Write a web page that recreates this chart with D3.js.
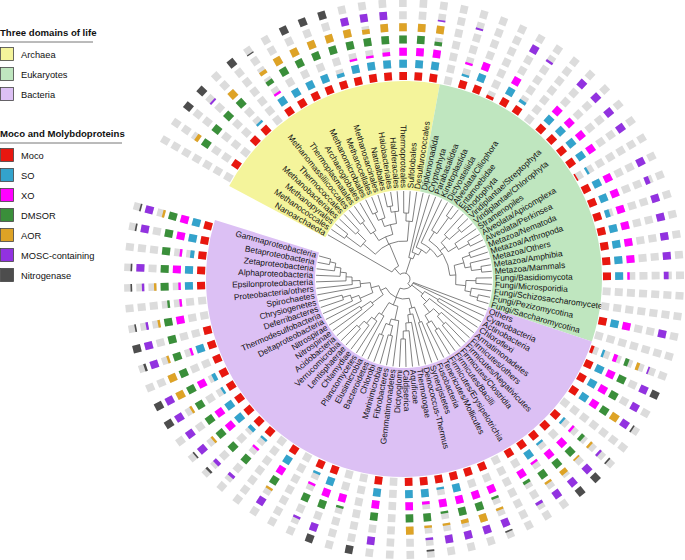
<!DOCTYPE html>
<html><head><meta charset="utf-8">
<script src="https://cdn.jsdelivr.net/npm/d3@7"></script>
<style>
body{margin:0;background:#fff}
svg{display:block}
text{font-family:"Liberation Sans",Arial,Helvetica,sans-serif;fill:#111}
</style>
</head><body>
<svg id="chart" width="685" height="560"></svg>
<script>
// ---------------- data ----------------
const archaea = ["Nanoarchaeota","Methanococcales","Methanopyrales","Methanobacteriales","Thermococcales",
 "Methanomassiliicoccales","Thermoplasmatales","Archaeoglobales","Methanomicrobiales","Methanocellales",
 "Methanosarcinales","Natrialbales","Halobacteriales","Haloferacales","Thermoproteales","Sulfolobales","Desulfurococcales"];
const eukaryotes = ["Diplomonadida","Cryptophyta","Parabasalidea","Kinetoplastida","Dictyosteliida","Alveolata/Ciliophora",
 "Entamoebidae","Rhodophyta","Viridiplantae/Streptophyta","Viridiplantae/Chlorophyta","Stramenopiles","Alveolata/Apicomplexa",
 "Alveolata/Perkinsea","Metazoa/Nematoda","Metazoa/Arthropoda","Metazoa/Others","Metazoa/Amphibia","Metazoa/Mammals",
 "Fungi/Basidiomycota","Fungi/Microsporidia","Fungi/Schizosaccharomycetes","Fungi/Pezizomycotina","Fungi/Saccharomycotina"];
const bacteria = ["Others","Cyanobacteria","Actinobacteria","Chloroflexi","Armatimonadetes","Firmicutes/others",
 "Firmicutes/Negativicutes","Firmicutes/Clostridia","Firmicutes/Bacilli","Firmicutes/Erysipelotrichia","Tenericutes/Mollicutes",
 "Fusobacteria","Synergistetes","Deinococcus-Thermus","Thermotogae","Aquificae","Caldiserica","Dictyoglomi","Gemmatimonadetes",
 "Fibrobacteres","Marinimicrobia","Chlorobi","Bacteroidetes","Elusimicrobia","Planctomycetes","Chlamydiae","Lentisphaerae",
 "Verrucomicrobia","Acidobacteria","Nitrospinae","Nitrospirae","Deltaproteobacteria","Thermodesulfobacteria","Deferribacteres",
 "Chrysiogenetes","Spirochaetes","Proteobacteria/others","Epsilonproteobacteria","Alphaproteobacteria","Zetaproteobacteria",
 "Betaproteobacteria","Gammaproteobacteria"];

// tree topology (Newick, internal branch lengths)
const archaeaTree = "(Nanoarchaeota,(((Methanococcales,Methanopyrales):18,(Methanobacteriales,Thermococcales):12):16,(((Methanomassiliicoccales,Thermoplasmatales):14,Archaeoglobales):10,(((Methanomicrobiales,Methanocellales):8,Methanosarcinales):8,((Natrialbales,Halobacteriales):6,Haloferacales):12):10):8,((Thermoproteales,Sulfolobales):8,Desulfurococcales):20):24):8";
const eukaryoteTree = "(Diplomonadida,(Cryptophyta,(Parabasalidea,(Kinetoplastida,((Dictyosteliida,(Alveolata/Ciliophora,Entamoebidae):20):10,((Rhodophyta,(Viridiplantae/Streptophyta,Viridiplantae/Chlorophyta):14):8,(Stramenopiles,(Alveolata/Apicomplexa,Alveolata/Perkinsea):12):10):6,(((Metazoa/Nematoda,Metazoa/Arthropoda):8,(Metazoa/Others,(Metazoa/Amphibia,Metazoa/Mammals):10):6):10,((Fungi/Basidiomycota,Fungi/Microsporidia):10,(Fungi/Schizosaccharomycetes,(Fungi/Pezizomycotina,Fungi/Saccharomycotina):8):6):10):6):6):6):6):6):16";
const bacteriaTree = "(Others,Cyanobacteria,((Actinobacteria,Chloroflexi):16,(Armatimonadetes,((Firmicutes/others,(Firmicutes/Negativicutes,Firmicutes/Clostridia):10):8,((Firmicutes/Bacilli,Firmicutes/Erysipelotrichia):10,Tenericutes/Mollicutes):8):10):8):14,(((Fusobacteria,Synergistetes):16,(Deinococcus-Thermus,(Thermotogae,(Aquificae,(Caldiserica,Dictyoglomi):8):8):8):6):10,((Gemmatimonadetes,((Fibrobacteres,Marinimicrobia):10,(Chlorobi,Bacteroidetes):12):6):14,(Elusimicrobia,(Planctomycetes,(Chlamydiae,(Lentisphaerae,Verrucomicrobia):8):8):8):14):8,((Acidobacteria,(Nitrospinae,Nitrospirae):12):14,((Deltaproteobacteria,(Thermodesulfobacteria,(Deferribacteres,Chrysiogenetes):8):8):14,(Spirochaetes,(Proteobacteria/others,(Epsilonproteobacteria,(Alphaproteobacteria,(Zetaproteobacteria,(Betaproteobacteria,Gammaproteobacteria):6):6):6):6):8):10):8):6):10):4";

const domainNames = ["Archaea","Eukaryotes","Bacteria"];
const domainColors = ["#f4f49b","#bfe6bf","#dcc0f4"];

const seriesNames = ["Moco","SO","XO","DMSOR","AOR","MOSC-containing","Nitrogenase"];
const seriesColors = ["#e8170f","#33a3cc","#ff00ff","#3a8f3a","#dea326","#9232e0","#4d4d4d"];

// fraction of each taxon carrying each protein (order: archaea, eukaryotes, bacteria)
const moco = [0,1,0,1,1,0,1,1,1,1,1,1,1,1,1,1,1,
 0,1,1,0.4,1,1,0,1,1,1,1,0.2,1,1,1,1,1,1,1,0,0,1,0,
 0.4,1,1,1,0,1,1,1,1,1,0,1,1,1,1,1,1,0,1,0,0,1,1,0,1,0,1,1,1,1,1,1,1,1,1,0,0,1,1,1,1,1];
const so = [0,0,0,0,0.3,0,1,1,1,1,0.5,1,1,1,1,1,1,
 0,0.3,1,0,1,0.4,0,1,1,1,1,0.3,1,1,0.6,1,1,1,1,0,0,1,0,
 0.3,1,1,1,0,0.3,0,0.3,1,0,0,0,0,1,0.3,1,1,0,1,0,0,1,0.3,0,1,0,0.3,0.5,1,1,0.3,0.5,0,1,0,0,0,1,1,0.5,1,1];
const xo = [0,0,0,0,0,0,0.3,0,0,0,0,0.3,0.3,0.5,1,1,1,
 0,0.3,1,0,1,0,0,1,1,1,1,0,1,1,1,1,1,1,0.3,0,0,1,0,
 0.5,1,1,1,0,0.3,1,1,0.3,1,0,1,1,1,1,0.4,1,0,1,0,1,1,0.3,0,1,0,0.3,0,1,1,0,1,0,0.3,0,1,0.3,0.3,1,0.3,1,1];
const dmsor = [0,1,1,1,1,0,0.6,1,1,1,1,1,1,1,1,1,0.5,
 0,0,0,0,0,0,0,0,0,0,0,0,0,0,0,0,0,0,0,0,0,0,0,
 0.5,1,1,1,0,0.5,1,1,1,0.4,0,0.3,1,1,0.3,1,1,0,1,0,0.3,1,1,0,1,0,1,1,1,1,1,1,1,1,1,1,0.3,1,1,1,1,1];
const aor = [0,0.5,0,0,1,0,0.5,1,1,1,1,1,0.6,1,1,1,1,
 0,0,0,0,0,0,0,0,0,0,0,0,0,0,0,0,0,0,0,0,0,0,0,
 0.4,0,0,1,0,0.3,0.2,0.6,0.3,0,0,0.3,1,0.5,0.3,0.3,1,0,0,0,0,0,0,0,0.3,0,0,0,0.3,0,0.3,1,1,0.3,0,0.3,0,0.3,0,0,0,0.3];
const mosc = [0,0,0,0.25,0,0,0,0,0,0,0,1,1,1,0,0,0.2,
 0,0.25,0,0,1,0.3,0,1,1,1,1,0,1,0.6,1,1,1,1,0.6,0,0,1,0,
 0.2,1,1,1,0,0.3,1,1,1,0.4,0,1,1,1,1,0.3,0,0,1,0,0,1,0.3,0,1,0,0.4,0.5,1,1,1,1,0,1,1,0.3,0,0.3,1,0,1,1];
const nitrogenase = [0,0,1,1,0,1,0.15,0,1,1,1,0,0,0,0,0,0,
 0,0,0,0,0,0,0,0,0,0,0,0,0,0,0,0,0,0,0,0,0,0,0,
 0,1,0,0.2,0,0.2,1,1,0,0,0,0.2,0,0,0,0.2,0,0,0,1,0,1,0,0,0,0,0,0.3,0.2,0,1,1,0,0.3,1,0.2,0,0.2,0.2,0,0.2,0.2];
const seriesValues = [moco, so, xo, dmsor, aor, mosc, nitrogenase];

// ---------------- layout ----------------
const svg = d3.select("#chart");
const cx = 404, cy = 279;
const leaves = archaea.concat(eukaryotes, bacteria);
const nLeaf = leaves.length;
const step = 4.26 * Math.PI / 180;
const startA = -62 * Math.PI / 180;
const angle = d3.scaleLinear().domain([0, nLeaf]).range([startA, startA + nLeaf * step]);
const leafIndex = new Map(leaves.map((d, i) => [d, i]));
const tipR = 88, labelR = 91, sectorIn = 89, sectorOut = 198;
const ringR = d3.scaleLinear().domain([0, 6]).range([199, 272]);
const cellH = 8, cellW = 7.6;
const px = (a, r) => [cx + r * Math.sin(a), cy - r * Math.cos(a)];

// sectors
const counts = [archaea.length, eukaryotes.length, bacteria.length];
let acc = 0;
const arcGen = d3.arc().innerRadius(sectorIn).outerRadius(sectorOut);
counts.forEach((c, k) => {
  svg.append("path")
    .attr("transform", `translate(${cx},${cy})`)
    .attr("d", arcGen({startAngle: angle(acc), endAngle: angle(acc + c)}))
    .attr("fill", domainColors[k]);
  acc += c;
});

// tree
function parseNewick(s) {
  let i = 0;
  function node() {
    const n = {name: "", len: 0};
    if (s[i] === "(") {
      i++; n.children = [node()];
      while (s[i] === ",") { i++; n.children.push(node()); }
      i++;
    }
    let name = "";
    while (i < s.length && !",():;".includes(s[i])) name += s[i++];
    n.name = name.trim();
    if (s[i] === ":") {
      i++; let num = "";
      while (i < s.length && !",();".includes(s[i])) num += s[i++];
      n.len = +num;
    }
    return n;
  }
  return node();
}
const newick = "(" + archaeaTree + "," + eukaryoteTree + "," + bacteriaTree + "):6;";
const root = d3.hierarchy(parseNewick(newick));
root.eachBefore(n => { n.r = n.parent ? n.parent.r + n.data.len : n.data.len; });
root.eachAfter(n => {
  if (!n.children) { n.r = tipR; n.a = angle(leafIndex.get(n.data.name) + 0.5); }
  else n.a = d3.mean(n.children, c => c.a);
});
const path = d3.path();
root.each(n => {
  if (!n.children) return;
  const a0 = d3.min(n.children, c => c.a), a1 = d3.max(n.children, c => c.a);
  const p0 = px(a0, n.r);
  path.moveTo(p0[0], p0[1]);
  path.arc(cx, cy, n.r, a0 - Math.PI / 2, a1 - Math.PI / 2);
  n.children.forEach(c => {
    const s = px(c.a, n.r), e = px(c.a, c.r);
    path.moveTo(s[0], s[1]); path.lineTo(e[0], e[1]);
  });
});
svg.append("path").attr("d", path.toString()).attr("fill", "none")
  .attr("stroke", "#555").attr("stroke-width", 0.75);

// labels
const deg = a => a * 180 / Math.PI;
const isLeft = i => { const n = ((deg(angle(i + 0.5)) % 360) + 360) % 360; return n > 180; };
svg.append("g").selectAll("text").data(leaves).join("text")
  .attr("transform", (d, i) => `translate(${cx},${cy}) rotate(${deg(angle(i + 0.5)) - 90}) translate(${labelR},0)` + (isLeft(i) ? " rotate(180)" : ""))
  .attr("text-anchor", (d, i) => isLeft(i) ? "end" : "start")
  .attr("dy", "0.35em")
  .attr("font-size", 8.4)
  .text(d => d);

// rings of cells
const cells = svg.append("g");
seriesValues.forEach((vals, k) => {
  vals.forEach((v, i) => {
    const g = cells.append("g")
      .attr("transform", `translate(${cx},${cy}) rotate(${deg(angle(i + 0.5)) - 90})`);
    g.append("rect").attr("x", ringR(k)).attr("y", -cellW / 2)
      .attr("width", cellH).attr("height", cellW).attr("fill", "#dcdcdc");
    if (v > 0) g.append("rect").attr("x", ringR(k)).attr("y", -cellW / 2)
      .attr("width", cellH * v).attr("height", cellW).attr("fill", seriesColors[k]);
  });
});

// legends
const lg = svg.append("g");
function legend(title, y0, lineW, names, colors) {
  lg.append("text").attr("x", 0).attr("y", y0).attr("font-size", 9.6).attr("font-weight", "bold").text(title);
  lg.append("line").attr("x1", 0).attr("x2", lineW).attr("y1", y0 + 6).attr("y2", y0 + 6)
    .attr("stroke", "#777").attr("stroke-width", 1);
  names.forEach((n, j) => {
    const y = y0 + 11 + j * 20;
    lg.append("rect").attr("x", 0.5).attr("y", y + 0.5).attr("width", 13).attr("height", 13)
      .attr("fill", colors[j]).attr("stroke", "#444").attr("stroke-width", 0.8);
    lg.append("text").attr("x", 21).attr("y", y + 10.5).attr("font-size", 9.3).text(n);
  });
}
legend("Three domains of life", 36, 93, domainNames, domainColors);
legend("Moco and Molybdoproteins", 137, 122, seriesNames, seriesColors);
</script>
</body></html>
